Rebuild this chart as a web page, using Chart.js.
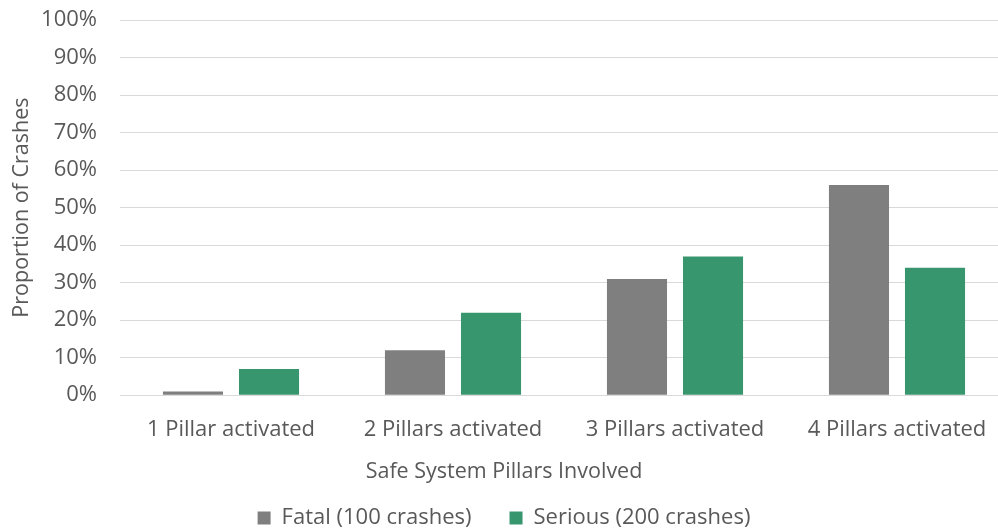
<!DOCTYPE html>
<html>
<head>
<meta charset="utf-8">
<script src="https://cdn.jsdelivr.net/npm/chart.js@4.4.1/dist/chart.umd.min.js"></script>
<style>
  html, body { margin: 0; padding: 0; background: #fff; overflow: hidden; }
  #wrap { width: 1010px; height: 529px; }
</style>
</head>
<body>
<div id="wrap"><canvas id="crashChart"></canvas></div>
<script>
  var categories = ['1 Pillar activated', '2 Pillars activated', '3 Pillars activated', '4 Pillars activated'];
  var fatalValues = [1, 12, 31, 56];
  var seriousValues = [7, 22, 37, 34];
  var seriesLabels = ['Fatal (100 crashes)', 'Serious (200 crashes)'];
  var yTicks = [0, 10, 20, 30, 40, 50, 60, 70, 80, 90, 100];

  var textColor = '#595959';
  var fontFamily = '"Open Sans", Lato, sans-serif';
  var fontSize = 22;
  var titleSize = 21.5;

  new Chart(document.getElementById('crashChart'), {
    type: 'bar',
    data: {
      labels: categories,
      datasets: [
        { label: seriesLabels[0], data: fatalValues, backgroundColor: '#7f7f7f' },
        { label: seriesLabels[1], data: seriousValues, backgroundColor: '#38966e' }
      ]
    },
    options: {
      responsive: true,
      maintainAspectRatio: false,
      animation: false,
      categoryPercentage: 0.685,
      barPercentage: 0.79,
      layout: { padding: { top: 0, right: 2, left: 0, bottom: 0 } },
      plugins: {
        tooltip: { enabled: false },
        legend: {
          position: 'bottom',
          // wide padding gives the gap between items; maxHeight keeps the box short
          maxHeight: 60,
          labels: {
            color: textColor,
            font: { family: fontFamily, size: fontSize },
            boxWidth: 13,
            boxHeight: 13,
            padding: 38
          }
        },
        title: {
          display: true,
          position: 'bottom',
          weight: 500,
          text: 'Safe System Pillars Involved',
          color: textColor,
          font: { family: fontFamily, size: titleSize, weight: 'normal' },
          padding: { top: 16, bottom: -16 }
        }
      },
      scales: {
        x: {
          grid: { display: false, drawTicks: false },
          border: { color: '#d9d9d9' },
          ticks: { color: textColor, font: { family: fontFamily, size: fontSize }, padding: 21 },
          afterFit: function (scale) { scale.height = 48; }
        },
        y: {
          min: 0,
          max: 100,
          afterBuildTicks: function (scale) {
            scale.ticks = yTicks.map(function (v) { return { value: v }; });
          },
          afterFit: function (scale) {
            scale.width = 120;
            scale.paddingTop = 20;
            scale.paddingBottom = 0;
          },
          grid: { color: '#d9d9d9', drawTicks: false },
          border: { display: false },
          ticks: {
            color: textColor,
            font: { family: fontFamily, size: fontSize },
            padding: 23,
            callback: function (value) { return value + '%'; }
          },
          title: {
            display: true,
            text: 'Proportion of Crashes',
            color: textColor,
            font: { family: fontFamily, size: titleSize },
            padding: { top: 9, bottom: 0 }
          }
        }
      }
    }
  });
</script>
</body>
</html>
